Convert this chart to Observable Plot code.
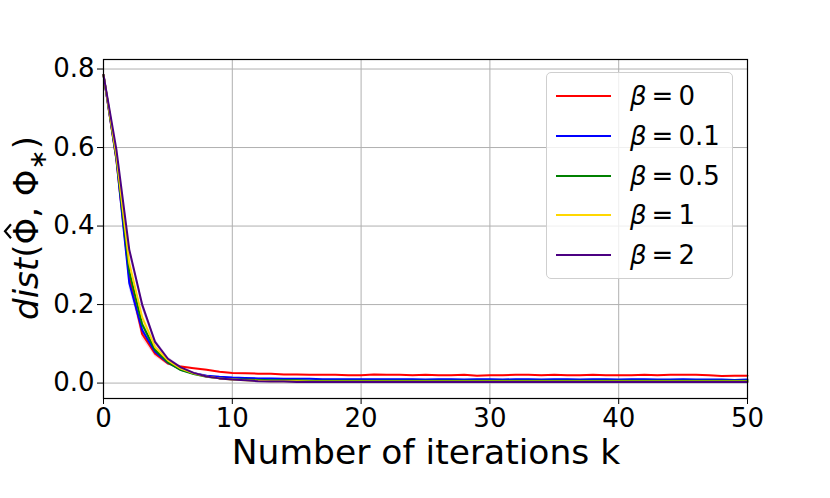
<!DOCTYPE html>
<html><head><meta charset="utf-8">
<script src="https://cdn.jsdelivr.net/npm/d3@7"></script>
<script src="https://cdn.jsdelivr.net/npm/@observablehq/plot@0.6"></script>
<style>
body{margin:0;background:#fff;}
#wrap{position:relative;width:830px;height:498px;font-family:"DejaVu Sans",sans-serif;}
#legend{position:absolute;left:546px;top:72px;width:187px;height:207px;background:rgba(255,255,255,0.8);border:1px solid #cfcfcf;border-radius:5px;box-sizing:border-box;}
.item{position:absolute;left:0;width:100%;height:40px;}
.sw{position:absolute;left:9px;top:19px;width:55px;height:2px;}
.lab{position:absolute;left:83px;top:0;line-height:40px;font-size:26px;color:#000;white-space:nowrap;}
.lab i{font-style:oblique;}
.sp{display:inline-block;width:5px;}
</style>
</head><body>
<div id="wrap"></div>
<script>
const iterations = d3.range(0, 51);
const seriesNames = ["β = 0", "β = 0.1", "β = 0.5", "β = 1", "β = 2"];
const betaValues = ["0", "0.1", "0.5", "1", "2"];
const seriesColors = ["#ff0000", "#0000ff", "#008000", "#ffd700", "#4b0082"];

const beta0 = [0.785, 0.570, 0.270, 0.125, 0.075, 0.050, 0.042, 0.038, 0.034, 0.029,
  0.026, 0.025, 0.024, 0.024, 0.022, 0.022, 0.021, 0.021, 0.021, 0.020,
  0.020, 0.022, 0.021, 0.021, 0.020, 0.021, 0.020, 0.020, 0.021, 0.019,
  0.020, 0.020, 0.021, 0.021, 0.020, 0.021, 0.020, 0.020, 0.021, 0.020,
  0.020, 0.020, 0.021, 0.020, 0.021, 0.021, 0.021, 0.020, 0.018, 0.019, 0.019];
const beta01 = [0.785, 0.570, 0.255, 0.135, 0.080, 0.052, 0.034, 0.025, 0.019, 0.016,
  0.014, 0.013, 0.012, 0.012, 0.011, 0.011, 0.011, 0.010, 0.010, 0.010,
  0.010, 0.010, 0.010, 0.010, 0.010, 0.009, 0.010, 0.010, 0.009, 0.010,
  0.010, 0.009, 0.010, 0.010, 0.009, 0.010, 0.010, 0.009, 0.010, 0.010,
  0.009, 0.010, 0.010, 0.009, 0.009, 0.010, 0.009, 0.009, 0.009, 0.008, 0.009];
const beta05 = [0.785, 0.575, 0.285, 0.150, 0.085, 0.053, 0.033, 0.023, 0.016, 0.012,
  0.010, 0.009, 0.008, 0.007, 0.007, 0.007, 0.006, 0.006, 0.006, 0.006,
  0.006, 0.006, 0.006, 0.006, 0.006, 0.006, 0.006, 0.006, 0.006, 0.006,
  0.006, 0.006, 0.006, 0.006, 0.006, 0.006, 0.006, 0.006, 0.006, 0.006,
  0.006, 0.006, 0.006, 0.006, 0.006, 0.006, 0.006, 0.006, 0.006, 0.006, 0.006];
const beta1 = [0.785, 0.580, 0.305, 0.168, 0.092, 0.058, 0.037, 0.025, 0.017, 0.012,
  0.009, 0.007, 0.006, 0.005, 0.005, 0.005, 0.004, 0.004, 0.004, 0.004,
  0.004, 0.004, 0.004, 0.004, 0.004, 0.004, 0.004, 0.004, 0.004, 0.004,
  0.004, 0.004, 0.004, 0.004, 0.004, 0.004, 0.004, 0.004, 0.004, 0.004,
  0.004, 0.004, 0.004, 0.004, 0.004, 0.004, 0.004, 0.004, 0.004, 0.004, 0.004];
const beta2 = [0.785, 0.595, 0.340, 0.200, 0.105, 0.062, 0.040, 0.026, 0.017, 0.012,
  0.009, 0.007, 0.005, 0.004, 0.004, 0.003, 0.003, 0.003, 0.003, 0.003,
  0.003, 0.003, 0.003, 0.003, 0.003, 0.003, 0.003, 0.003, 0.003, 0.003,
  0.003, 0.003, 0.003, 0.003, 0.003, 0.003, 0.003, 0.003, 0.003, 0.003,
  0.003, 0.003, 0.003, 0.003, 0.003, 0.003, 0.003, 0.003, 0.003, 0.003, 0.003];
// faint spread band (half-width) seen around the curves, estimated
const spread = [0.000, 0.012, 0.014, 0.012, 0.008, 0.005, 0.003, 0.002, 0.002, 0.001,
  0.001, 0.001, 0.001, 0.001, 0.001, 0.001, 0.001, 0.001, 0.001, 0.001,
  0.001, 0.001, 0.001, 0.001, 0.001, 0.001, 0.001, 0.001, 0.001, 0.001,
  0.001, 0.001, 0.001, 0.001, 0.001, 0.001, 0.001, 0.001, 0.001, 0.001,
  0.001, 0.001, 0.001, 0.001, 0.001, 0.001, 0.001, 0.001, 0.001, 0.001, 0.001];

const xTicks = [0, 10, 20, 30, 40, 50];
const yTicks = [0, 0.2, 0.4, 0.6, 0.8];

const allSeries = [beta0, beta01, beta05, beta1, beta2];
const rows = [];
allSeries.forEach((vals, s) => vals.forEach((v, i) => rows.push({k: iterations[i], v, lo: v - spread[i], hi: v + spread[i], s: seriesNames[s]})));

const chart = Plot.plot({
  width: 830, height: 498,
  marginLeft: 103, marginRight: 83, marginTop: 59, marginBottom: 100,
  style: {fontFamily: "DejaVu Sans", color: "#000", background: "#fff"},
  x: {domain: [0, 50]},
  y: {domain: [-0.03925, 0.82425]},
  color: {domain: seriesNames, range: seriesColors},
  marks: [
    Plot.gridX(xTicks, {stroke: "#b0b0b0", strokeOpacity: 1, strokeWidth: 1}),
    Plot.gridY(yTicks, {stroke: "#b0b0b0", strokeOpacity: 1, strokeWidth: 1}),
    Plot.axisX(xTicks, {tickSize: 6, tickPadding: 4, fontSize: 26, label: null, tickFormat: d => String(d)}),
    Plot.axisY(yTicks, {tickSize: 6, tickPadding: 3, fontSize: 26, label: null, tickFormat: d => d.toFixed(1)}),
    Plot.areaY(rows, {x: "k", y1: "lo", y2: "hi", z: "s", fill: "s", fillOpacity: 0.15}),
    Plot.line(rows, {x: "k", y: "v", z: "s", stroke: "s", strokeWidth: 2, curve: "linear"}),
    Plot.frame({stroke: "#000", strokeWidth: 1.2})
  ]
});

const svg = d3.select(chart);
// x label
svg.append("text")
  .attr("x", 426).attr("y", 464)
  .attr("text-anchor", "middle")
  .style("font-family", "DejaVu Sans").style("font-size", "34.5px").attr("fill", "#000")
  .text("Number of iterations k");
// y label
const ylg = svg.append("g").attr("transform", "translate(38,228) rotate(-90)");
const yl = ylg.append("text")
  .attr("text-anchor", "middle")
  .style("font-family", "DejaVu Sans").style("font-size", "34px").attr("fill", "#000");
yl.append("tspan").style("font-style", "italic").text("dist");
yl.append("tspan").text("(\u03A6, \u03A6");
yl.append("tspan").attr("dy", 8).style("font-size", "24px").text("\u2217");
yl.append("tspan").attr("dy", -8).text(")");

const wrap = document.getElementById("wrap");
wrap.appendChild(chart);

// hat accent over the first Φ (character index 5)
try {
  const node = yl.node();
  const p0 = node.getStartPositionOfChar(5).x;
  const p1 = node.getEndPositionOfChar(5).x;
  const cx = (p0 + p1) / 2;
  ylg.append("path")
    .attr("d", `M${cx - 7},-27 L${cx},-33 L${cx + 7},-27`)
    .attr("fill", "none").attr("stroke", "#000").attr("stroke-width", 2.2);
} catch (e) {}

const legend = document.createElement("div");
legend.id = "legend";
seriesNames.forEach((name, i) => {
  const it = document.createElement("div");
  it.className = "item";
  it.style.top = (3 + i * 39.8) + "px";
  const sw = document.createElement("div");
  sw.className = "sw";
  sw.style.background = seriesColors[i];
  const lab = document.createElement("div");
  lab.className = "lab";
  lab.innerHTML = "<i>β</i><span class='sp'></span>=<span class='sp'></span>" + betaValues[i];
  it.appendChild(sw); it.appendChild(lab);
  legend.appendChild(it);
});
wrap.appendChild(legend);
</script>
</body></html>
